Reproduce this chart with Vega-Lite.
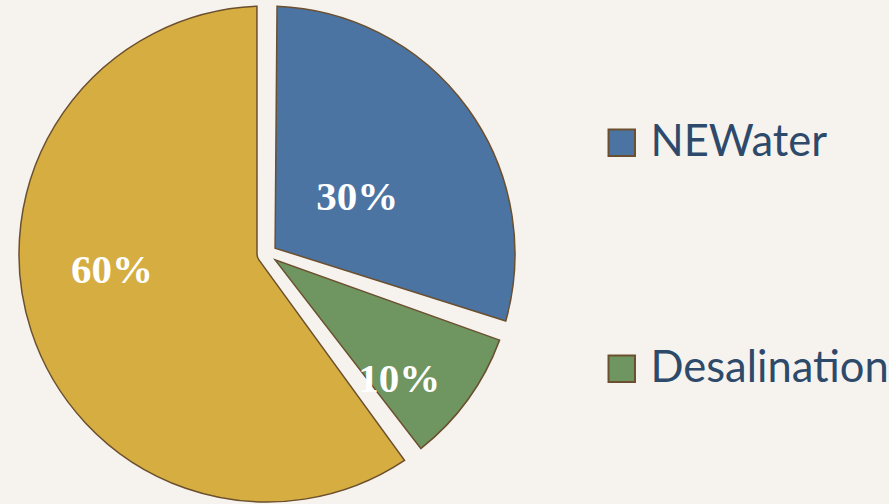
{
  "$schema": "https://vega.github.io/schema/vega-lite/v6.json",
  "width": 534,
  "height": 508,
  "padding": 0,
  "background": "#F6F3EF",
  "config": {"view": {"stroke": null}},
  "data": {
    "values": [
      {"source": "NEWater", "share": 30, "label": "30%", "rank": 1},
      {"source": "Desalination", "share": 10, "label": "10%", "rank": 2},
      {"source": "Local Catchment & Imported Water", "share": 60, "label": "60%", "rank": 3}
    ]
  },
  "encoding": {
    "theta": {"field": "share", "type": "quantitative", "stack": true},
    "order": {"field": "rank", "type": "quantitative"}
  },
  "layer": [
    {
      "mark": {"type": "arc", "radius": 248, "radius2": 10, "padAngle": 0.081, "stroke": "#6B4F2E", "strokeWidth": 1.5},
      "encoding": {
        "color": {
          "field": "source",
          "type": "nominal",
          "scale": {
            "domain": ["NEWater", "Desalination", "Local Catchment & Imported Water"],
            "range": ["#4B74A3", "#6F9660", "#D5AD40"]
          },
          "legend": {
            "title": null,
            "values": ["NEWater", "Desalination"],
            "orient": "none",
            "legendX": 600,
            "legendY": 121,
            "direction": "vertical",
            "symbolType": "square",
            "symbolSize": 700,
            "symbolStrokeColor": "#6B4F2E",
            "symbolStrokeWidth": 2,
            "symbolOpacity": 1,
            "labelFont": "Lato",
            "labelFontSize": 43.5,
            "labelColor": "#2E4A6B",
            "labelOffset": 7,
            "labelLimit": 400,
            "rowPadding": 181
          }
        }
      }
    },
    {
      "mark": {"type": "text", "radius": 106, "thetaOffset": 0.075, "font": "Liberation Serif", "fontWeight": "bold", "fontSize": 41, "color": "white", "align": "center", "baseline": "middle"},
      "encoding": {
        "text": {"condition": {"test": "datum.source === 'NEWater'", "field": "label"}, "value": ""}
      }
    },
    {
      "mark": {"type": "text", "radius": 183, "thetaOffset": 0.134, "font": "Liberation Serif", "fontWeight": "bold", "fontSize": 41, "color": "white", "align": "center", "baseline": "middle"},
      "encoding": {
        "text": {"condition": {"test": "datum.source === 'Desalination'", "field": "label"}, "value": ""}
      }
    },
    {
      "mark": {"type": "text", "radius": 156, "thetaOffset": 0.206, "font": "Liberation Serif", "fontWeight": "bold", "fontSize": 41, "color": "white", "align": "center", "baseline": "middle"},
      "encoding": {
        "text": {"condition": {"test": "datum.rank === 3", "field": "label"}, "value": ""}
      }
    }
  ]
}
